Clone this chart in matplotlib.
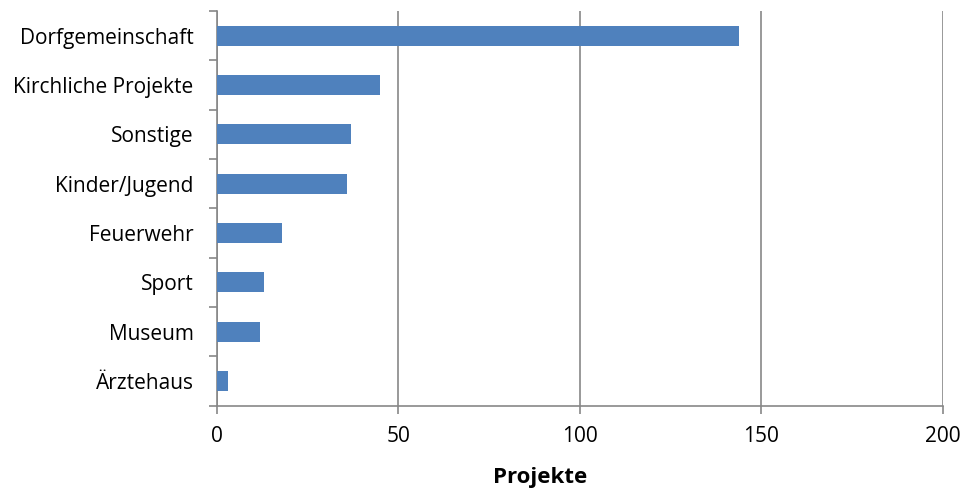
import matplotlib
matplotlib.use("Agg")
import matplotlib.pyplot as plt
import numpy as np

categories = ["Dorfgemeinschaft", "Kirchliche Projekte", "Sonstige", "Kinder/Jugend",
              "Feuerwehr", "Sport", "Museum", "Ärztehaus"]
values = [144, 45, 37, 36, 18, 13, 12, 3]
x_ticks = [0, 50, 100, 150, 200]

plt.rcParams["font.family"] = ["Open Sans", "DejaVu Sans"]

fig = plt.figure(figsize=(9.65, 4.9), dpi=100)
ax = fig.add_axes([0.2245, 0.172, 0.977 - 0.2245, 0.9776 - 0.172])

n = len(categories)
pos = np.arange(n)[::-1]
ax.barh(pos, values, height=0.4, color="#4F81BD", zorder=3)

ax.set_xlim(0, 200)
ax.set_ylim(-0.5, n - 0.5)
ax.set_xticks(x_ticks)
ax.set_xticklabels([str(t) for t in x_ticks], fontsize=15)
ax.xaxis.grid(True, color="#878787", linewidth=1.2, zorder=0)

# category labels centred on bars, tick marks on category boundaries
ax.set_yticks(pos)
ax.set_yticklabels(categories, fontsize=15)
ax.tick_params(axis="y", which="major", length=0, pad=16.5)
ax.set_yticks(np.arange(n + 1) - 0.5, minor=True)
ax.tick_params(axis="y", which="minor", length=5.5, width=1.2, color="#878787", direction="out")
ax.tick_params(axis="x", length=5.5, width=1.2, color="#878787", direction="out", pad=9)

for s in ["top", "right"]:
    ax.spines[s].set_visible(False)
for s in ["left", "bottom"]:
    ax.spines[s].set_color("#878787")
    ax.spines[s].set_linewidth(1.2)

ax.set_xlabel("Projekte", fontsize=16, fontweight="bold", labelpad=14.5, x=0.445)

fig.savefig("out.png", dpi=100, facecolor="white")
